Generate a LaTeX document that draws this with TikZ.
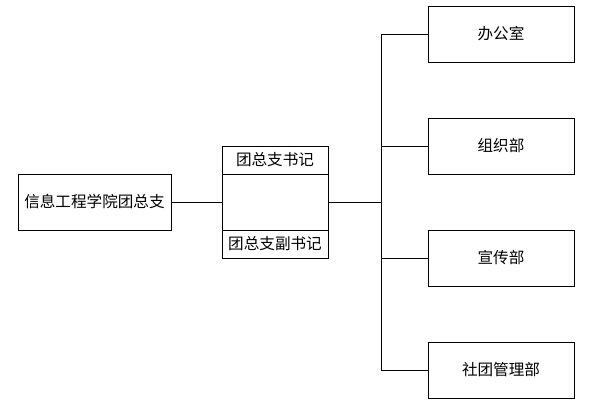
\documentclass[tikz,border=0pt]{standalone}
\usepackage{fontspec}
\setmainfont{Noto Sans CJK SC}
\usepackage{tikz}
\usetikzlibrary{positioning, calc}

\begin{document}
\begin{tikzpicture}[
    x=1pt, y=-1pt,
    font=\fontsize{15.6}{18}\selectfont,
    orgbox/.style={rectangle, draw, line width=0.8pt, inner sep=0pt, align=center},
    deptbox/.style={orgbox, minimum width=146pt, minimum height=56pt},
    link/.style={draw, line width=0.8pt}
]
    \useasboundingbox (0,0) rectangle (595,412);

    \node[orgbox, minimum width=153pt, minimum height=56pt] (root) at (94.5,202) {信息工程学院团总支};

    \node[orgbox, minimum width=106pt, minimum height=112pt] (sec) at (275,202) {};
    \node[orgbox, minimum width=106pt, minimum height=28pt, anchor=north] (sec1) at (sec.north) {团总支书记};
    \node[orgbox, minimum width=106pt, minimum height=28pt, anchor=south] (sec2) at (sec.south) {团总支副书记};

    \node[deptbox] (office) at (501,34) {办公室};
    \node[deptbox] (organize) at (501,146) {组织部};
    \node[deptbox] (publicity) at (501,258) {宣传部};
    \node[deptbox] (clubs) at (501,370) {社团管理部};

    \coordinate (trunk) at (381,202);

    \path[link] (root) -- (sec);
    \path[link] (sec.east) -- (trunk);
    \path[link] (trunk) |- (office.west);
    \path[link] (trunk) |- (organize.west);
    \path[link] (trunk) |- (publicity.west);
    \path[link] (trunk) |- (clubs.west);
\end{tikzpicture}
\end{document}
